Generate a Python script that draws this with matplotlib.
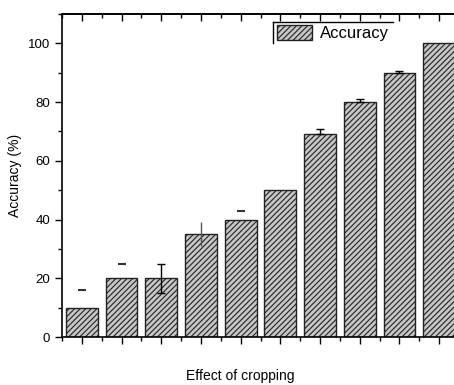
import matplotlib
matplotlib.use("Agg")
import matplotlib.pyplot as plt
from matplotlib.ticker import MultipleLocator
from matplotlib.lines import Line2D

plt.rcParams['font.family'] = ['Liberation Sans', 'DejaVu Sans']
plt.rcParams['hatch.linewidth'] = 0.8

positions = [1, 2, 3, 4, 5, 6, 7, 8, 9, 10]
values = [10, 20, 20, 35, 40, 50, 69, 80, 90, 100]
err_lower = [0, 0, 5, 4, 0, 0, 0, 0, 0, 0]
err_upper = [0, 0, 5, 4, 0, 0, 1.7, 1.2, 0.6, 0]
cap_only = [16, 25, None, None, 43, None, None, None, None, None]

fig = plt.figure(figsize=(4.54, 3.85), dpi=100)
ax = fig.add_axes([62/454, 48/385, 397/454, 323/385])

bars = ax.bar(positions, values, width=0.8, color='#c6c6c6', edgecolor='#222222',
              linewidth=1.0, hatch='//////', label='Accuracy', zorder=2)

for x, v, lo, up in zip(positions, values, err_lower, err_upper):
    if lo == 0 and up == 0:
        continue
    cs = 0 if x == 4 else 3
    col = '#555555' if x == 4 else 'black'
    ax.errorbar(x, v, yerr=[[lo], [up]], fmt='none', ecolor=col, elinewidth=1.0,
                capsize=cs, capthick=1.0, zorder=3)
for x, c in zip(positions, cap_only):
    if c is not None:
        ax.plot([x], [c], marker='_', markersize=6, color='#333333', mew=1.5, zorder=3)

ax.set_xlim(0.5, 10.5)
ax.set_ylim(0, 110)
ax.set_xticks(positions)
ax.set_xticklabels([])
ax.xaxis.set_minor_locator(MultipleLocator(0.5))
ax.yaxis.set_major_locator(MultipleLocator(20))
ax.yaxis.set_minor_locator(MultipleLocator(10))
ax.tick_params(axis='both', which='major', direction='out', length=5, width=1, labelsize=9.5)
ax.tick_params(axis='both', which='minor', direction='out', length=3, width=1)
for s in ['top', 'left', 'bottom']:
    ax.spines[s].set_linewidth(1.2)
ax.spines['right'].set_visible(False)

secax = ax.secondary_xaxis('top')
secax.set_xticks(positions)
secax.set_xticklabels([])
secax.xaxis.set_minor_locator(MultipleLocator(0.5))
secax.tick_params(axis='x', which='major', direction='in', length=5, width=1)
secax.tick_params(axis='x', which='minor', direction='in', length=3, width=1)
secax.spines['top'].set_linewidth(1.2)

ax.set_ylabel('Accuracy (%)', fontsize=10)
fig.text(240/454, 1 - 376/385, 'Effect of cropping', ha='center', va='center', fontsize=10)

leg = ax.legend(loc='upper left', bbox_to_anchor=(213/397, 1 - 9/323), fontsize=12,
                frameon=False, borderpad=0.1,
                handlelength=2.1, handleheight=1.0, handletextpad=0.5, borderaxespad=0)

# legend frame: only top and left edges visible as in the reference
W, H = 454, 385
fig.add_artist(Line2D([273/W, 393/W], [1 - 22/H, 1 - 22/H], color='black', lw=1.0))
fig.add_artist(Line2D([273/W, 273/W], [1 - 22/H, 1 - 43/H], color='black', lw=1.0))

fig.savefig('out.png', dpi=100)
